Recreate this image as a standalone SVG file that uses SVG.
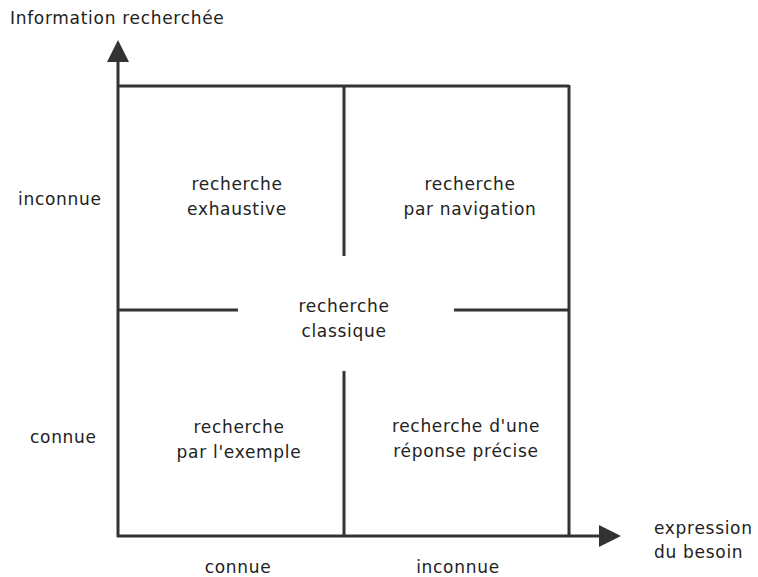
<svg xmlns="http://www.w3.org/2000/svg" width="758" height="577" viewBox="0 0 758 577">
<style>
.ln{stroke:#333;stroke-width:3;fill:none}
text{font-family:"DejaVu Sans",Verdana,sans-serif;font-size:17px;letter-spacing:0.7px;fill:#222}
.c{text-anchor:middle}
</style>
<rect width="758" height="577" fill="#fff"/>
<g id="connectors">
<line class="ln" x1="118" y1="537" x2="118" y2="60"/>
<polygon points="118,40 107,62 129,62" fill="#333"/>
<line class="ln" x1="117" y1="536" x2="600" y2="536"/>
<polygon points="621,536 599,525 599,547" fill="#333"/>
<line class="ln" x1="118" y1="86" x2="569" y2="86"/>
<line class="ln" x1="569" y1="85" x2="569" y2="536"/>
<line class="ln" x1="344" y1="86" x2="344" y2="256"/>
<line class="ln" x1="344" y1="371" x2="344" y2="536"/>
<line class="ln" x1="118" y1="310" x2="238" y2="310"/>
<line class="ln" x1="454" y1="310" x2="569" y2="310"/>
</g>
<g id="axis-y"><text x="10" y="24">Information recherchée</text></g>
<g id="label-y-inconnue"><text x="18" y="205">inconnue</text></g>
<g id="label-y-connue"><text x="30" y="443">connue</text></g>
<g id="label-x-connue"><text class="c" x="238" y="573">connue</text></g>
<g id="label-x-inconnue"><text class="c" x="458" y="573">inconnue</text></g>
<g id="axis-x"><text x="654" y="534">expression</text><text x="654" y="558">du besoin</text></g>
<g id="q-exhaustive"><text class="c" x="237" y="190">recherche</text><text class="c" x="237" y="215">exhaustive</text></g>
<g id="q-navigation"><text class="c" x="470" y="190">recherche</text><text class="c" x="470" y="215">par navigation</text></g>
<g id="q-classique"><text class="c" x="344" y="312">recherche</text><text class="c" x="344" y="337">classique</text></g>
<g id="q-exemple"><text class="c" x="239" y="433">recherche</text><text class="c" x="239" y="458">par l'exemple</text></g>
<g id="q-precise"><text class="c" x="466" y="432">recherche d'une</text><text class="c" x="466" y="457">réponse précise</text></g>
</svg>
